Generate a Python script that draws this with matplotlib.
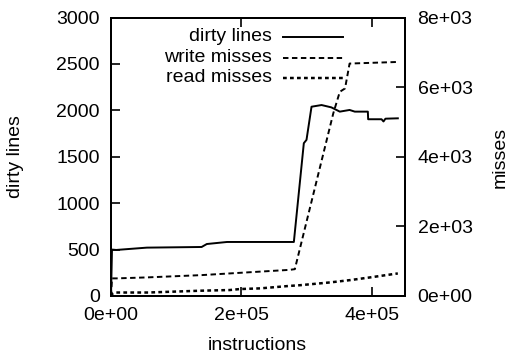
import matplotlib
matplotlib.use("Agg")
import matplotlib.pyplot as plt
from matplotlib.lines import Line2D

plt.rcParams['font.family'] = ['Liberation Sans', 'DejaVu Sans']
plt.rcParams['font.size'] = 14

# dirty lines (left axis)
dirty_x = [0, 1.5e3, 8e3, 5.5e4, 1.39e5, 1.47e5, 1.78e5, 2.78e5, 2.805e5,
           2.958e5, 2.999e5, 3.076e5, 3.23e5, 3.38e5, 3.51e5, 3.66e5,
           3.74e5, 3.94e5, 3.945e5, 4.15e5, 4.18e5, 4.21e5, 4.40e5]
dirty_y = [0, 500, 496, 521, 528, 560, 582, 582, 582,
           1646, 1682, 2039, 2057, 2032, 1986, 2004,
           1986, 1986, 1904, 1904, 1880, 1910, 1914]

# write misses (right axis)
write_x = [0, 1.5e3, 8e3, 5.5e4, 1.39e5, 1.47e5, 2.74e5, 2.82e5,
           3.41e5, 3.51e5, 3.59e5, 3.66e5, 4.40e5]
write_y = [0, 506, 506, 534, 600, 609, 751, 771,
           5248, 5866, 5962, 6677, 6723]

# read misses (right axis)
read_x = [0, 1.5e3, 6e3, 5.7e4, 1.37e5, 1.82e5, 1.98e5, 2.29e5, 2.74e5,
          2.90e5, 3.36e5, 3.67e5, 3.97e5, 4.40e5]
read_y = [0, 60, 100, 100, 152, 171, 200, 219, 290,
          310, 390, 457, 533, 648]

x_ticks = [0, 2e5, 4e5]
x_labels = ['0e+00', '2e+05', '4e+05']
y_ticks = [0, 500, 1000, 1500, 2000, 2500, 3000]
y2_ticks = [0, 2000, 4000, 6000, 8000]
y2_labels = ['0e+00', '2e+03', '4e+03', '6e+03', '8e+03']
names = ['dirty lines', 'write misses', 'read misses']

fig = plt.figure(figsize=(5.1, 3.58), dpi=100)
ax = fig.add_axes([111/510, 62/358, 294/510, 278.5/358])
ax2 = ax.twinx()

lw = 1.4
solid = dict(color='black', lw=lw, linestyle='-')
dashed = dict(color='black', lw=lw, linestyle=(0, (2.8, 1.8)))
dotted = dict(color='black', lw=lw + 0.4, linestyle=(0, (1.5, 1.3)))

ax.plot(dirty_x, dirty_y, **solid)
ax2.plot(write_x, write_y, **dashed)
ax2.plot(read_x, read_y, **dotted)

ax.set_xlim(0, 4.51e5)
ax.set_ylim(0, 3000)
ax2.set_ylim(0, 8000)

ax.set_xticks(x_ticks)
ax.set_xticklabels(x_labels)
ax.set_yticks(y_ticks)
ax2.set_yticks(y2_ticks)
ax2.set_yticklabels(y2_labels)

ax.tick_params(axis='x', direction='in', length=6.5, width=1.2, top=True, pad=8)
ax.tick_params(axis='y', direction='in', length=6.5, width=1.2, right=False, pad=8)
ax2.tick_params(axis='y', direction='in', length=6.5, width=1.2, pad=9)
for a in (ax, ax2):
    for s in a.spines.values():
        s.set_linewidth(1.4)

# gnuplot-style key: right-aligned text, sample to the right
styles = [solid, dashed, dotted]
rows = [0.930, 0.855, 0.783]
for name, st, yy in zip(names, styles, rows):
    ax.text(0.548, yy, name, transform=ax.transAxes, ha='right', va='center')
    ax.add_line(Line2D([0.585, 0.789], [yy, yy], transform=ax.transAxes, **st))

fig.text(16/510, 1 - 157/358, 'dirty lines', rotation=90, ha='center', va='center')
fig.text(500/510, 1 - 157/358, 'misses', rotation=90, ha='center', va='center')
fig.text(257.5/510, 1 - 346/358, 'instructions', ha='center', va='center')

fig.savefig('out.png', dpi=100)
